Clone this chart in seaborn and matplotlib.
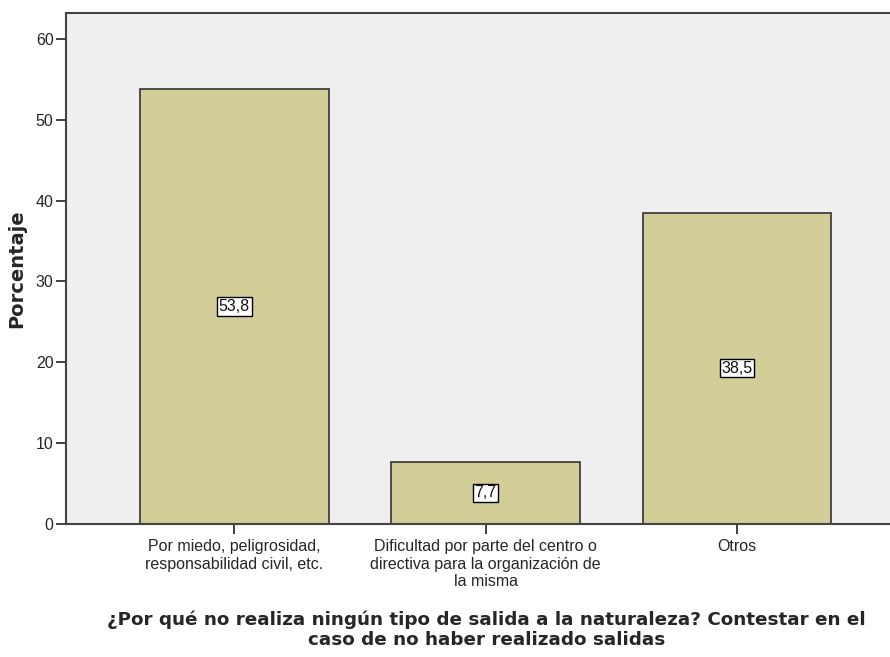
import matplotlib
matplotlib.use('Agg')
import matplotlib.pyplot as plt
import pandas as pd
import seaborn as sns

# Chart data
categories = ['Por miedo, peligrosidad,\nresponsabilidad civil, etc.',
              'Dificultad por parte del centro o\ndirectiva para la organización de\nla misma',
              'Otros']
porcentajes = [53.8, 7.7, 38.5]
etiquetas = ['53,8', '7,7', '38,5']

df = pd.DataFrame({'motivo': categories, 'pct': porcentajes})

sns.set_style('white')
plt.rcParams['font.family'] = ['Liberation Sans', 'DejaVu Sans']
plt.rcParams['xtick.bottom'] = True
plt.rcParams['ytick.left'] = True

fig = plt.figure(figsize=(8.9, 6.57), dpi=100)
ax = fig.add_axes([0.0742, 0.2024, 0.9258, 0.7778])
ax.set_facecolor('#EFEFEF')

sns.barplot(data=df, x='motivo', y='pct', color='#D3CE97', width=0.75,
            edgecolor='#333333', linewidth=1.2, saturation=1, ax=ax)

# value labels in white boxes at mid height
for i, (v, lab) in enumerate(zip(porcentajes, etiquetas)):
    ax.text(i, v / 2, lab, ha='center', va='center', fontsize=11.5, color='#111111',
            bbox=dict(boxstyle='square,pad=0.1', facecolor='white', edgecolor='black', linewidth=1))

ax.set_xlim(-0.67, 2.61)
ax.set_ylim(0, 63.2)
ax.set_yticks([0, 10, 20, 30, 40, 50, 60])
ax.tick_params(axis='both', direction='out', length=7.5, width=1.3, color='#333333')
ax.tick_params(axis='y', labelsize=11.5, pad=1.5)
ax.tick_params(axis='x', labelsize=11.5, pad=3.5)

lab_font = ['DejaVu Sans']
ax.set_ylabel('Porcentaje', fontsize=14, fontweight='bold', family=lab_font)
ax.yaxis.set_label_coords(-0.048, 0.5)
ax.set_xlabel('¿Por qué no realiza ningún tipo de salida a la naturaleza? Contestar en el\ncaso de no haber realizado salidas',
              fontsize=13.2, fontweight='bold', family=lab_font, linespacing=1.15)
ax.xaxis.set_label_coords(0.51, -0.17)

for side in ['left', 'top', 'bottom']:
    ax.spines[side].set_color('#444444')
    ax.spines[side].set_linewidth(1.5)
ax.spines['right'].set_visible(False)

fig.savefig('out.png', dpi=100)
